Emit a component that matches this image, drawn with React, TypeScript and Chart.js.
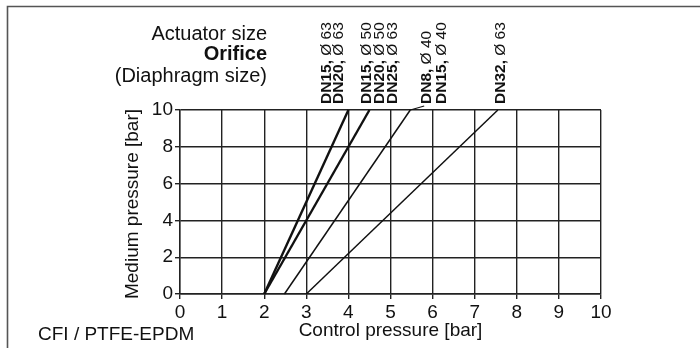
import React, { useEffect, useRef } from 'react';
import { Chart, registerables } from 'chart.js';

Chart.register(...registerables);

// Control pressure [bar] (x) vs medium pressure [bar] (y)
const lineDN15_63 = [{ x: 2, y: 0 }, { x: 4, y: 10 }];
const lineDN20_63 = [{ x: 2, y: 0 }, { x: 4.5, y: 10 }];
const lineDN25_50 = [{ x: 2.48, y: 0 }, { x: 5.47, y: 10 }];
const leaderDN8 = [{ x: 5.47, y: 10 }, { x: 5.8, y: 10.22 }];
const lineDN32_63 = [{ x: 3, y: 0 }, { x: 7.55, y: 10 }];

const xMin = 0;
const xMax = 10;
const yMin = 0;
const yMax = 10;

const labelBold = ['DN15,', 'DN20,', 'DN15,', 'DN20,', 'DN25,', 'DN8,', 'DN15,', 'DN32,'];
const labelRegular = ['Ø 63', 'Ø 63', 'Ø 50', 'Ø 50', 'Ø 63', 'Ø 40', 'Ø 40', 'Ø 63'];
const labelBaselineX = [331, 343, 371, 384, 397, 431, 446, 505];

const headerLines = ['Actuator size', 'Orifice', '(Diaphragm size)'];
const xTitle = 'Control pressure [bar]';
const yTitle = 'Medium pressure [bar]';
const footNote = 'CFI / PTFE-EPDM';

const FONT = '"Liberation Sans", Arial, Helvetica, sans-serif';

const annotationPlugin = {
  id: 'annotations',
  afterDraw(chart: any) {
    const ctx = chart.ctx as CanvasRenderingContext2D;
    const area = chart.chartArea;
    ctx.save();
    // frame
    ctx.strokeStyle = '#555';
    ctx.lineWidth = 1.6;
    ctx.beginPath();
    ctx.moveTo(7.5, 348);
    ctx.lineTo(7.5, 6.5);
    ctx.lineTo(700, 6.5);
    ctx.stroke();

    ctx.fillStyle = '#111';
    // header
    ctx.textAlign = 'right';
    ctx.textBaseline = 'middle';
    ctx.font = `20px ${FONT}`;
    ctx.fillText(headerLines[0], 267, 34);
    ctx.font = `bold 20px ${FONT}`;
    ctx.fillText(headerLines[1], 267, 54);
    ctx.font = `20px ${FONT}`;
    ctx.fillText(headerLines[2], 267, 76);

    // axis titles
    ctx.font = `19px ${FONT}`;
    ctx.textAlign = 'center';
    ctx.textBaseline = 'middle';
    ctx.fillText(xTitle, (area.left + area.right) / 2, 331);
    ctx.save();
    ctx.translate(133, (area.top + area.bottom) / 2 + 2);
    ctx.rotate(-Math.PI / 2);
    ctx.fillText(yTitle, 0, 0);
    ctx.restore();

    // footnote
    ctx.textAlign = 'left';
    ctx.fillText(footNote, 38, 335);

    // rotated series labels
    ctx.textBaseline = 'alphabetic';
    for (let i = 0; i < labelBold.length; i++) {
      ctx.save();
      ctx.translate(labelBaselineX[i], 104);
      ctx.rotate(-Math.PI / 2);
      ctx.textAlign = 'left';
      ctx.font = `bold 15.5px ${FONT}`;
      ctx.fillText(labelBold[i], 0, 0);
      const w = ctx.measureText(labelBold[i] + ' ').width;
      ctx.font = `15.5px ${FONT}`;
      ctx.fillText(labelRegular[i], w, 0);
      ctx.restore();
    }
    ctx.restore();
  },
};

export default function App() {
  const ref = useRef<HTMLCanvasElement | null>(null);
  useEffect(() => {
    if (!ref.current) return;
    const ds = (data: any[], width: number) => ({
      data,
      borderColor: '#111',
      borderWidth: width,
      showLine: true,
      pointRadius: 0,
      fill: false,
      tension: 0,
      clip: false as any,
    });
    const chart = new Chart(ref.current, {
      type: 'scatter',
      data: {
        datasets: [
          ds(lineDN15_63, 2.4),
          ds(lineDN20_63, 2.4),
          ds(lineDN25_50, 1.5),
          ds(leaderDN8, 1.2),
          ds(lineDN32_63, 1.5),
        ],
      },
      options: {
        responsive: false,
        animation: false,
        devicePixelRatio: 1,
        layout: { padding: { left: 0, top: 110, right: 99, bottom: 0 } },
        plugins: { legend: { display: false }, tooltip: { enabled: false } },
        scales: {
          x: {
            type: 'linear',
            min: xMin,
            max: xMax,
            ticks: { stepSize: 1, color: '#111', padding: 2, font: { family: FONT, size: 19 } },
            grid: { color: '#222', lineWidth: 1.4, tickLength: 5, tickColor: '#222' },
            border: { color: '#222', width: 1.4 },
            afterFit: (s: any) => { s.height = 54; },
          },
          y: {
            type: 'linear',
            min: yMin,
            max: yMax,
            ticks: {
              stepSize: 1,
              color: '#111',
              padding: 2,
              font: { family: FONT, size: 19 },
              callback: (v: any) => (Number(v) % 2 === 0 ? String(v) : ''),
            },
            grid: { color: '#222', lineWidth: 1.4, tickLength: 5, tickColor: '#222' },
            border: { color: '#222', width: 1.4 },
            afterFit: (s: any) => { s.width = 180; },
          },
        },
      },
      plugins: [annotationPlugin],
    });
    return () => chart.destroy();
  }, []);
  return (
    <div style={{ position: 'absolute', left: 0, top: 0, width: 700, height: 348, background: '#fff' }}>
      <canvas ref={ref} width={700} height={348} style={{ width: 700, height: 348, display: 'block' }} />
    </div>
  );
}
